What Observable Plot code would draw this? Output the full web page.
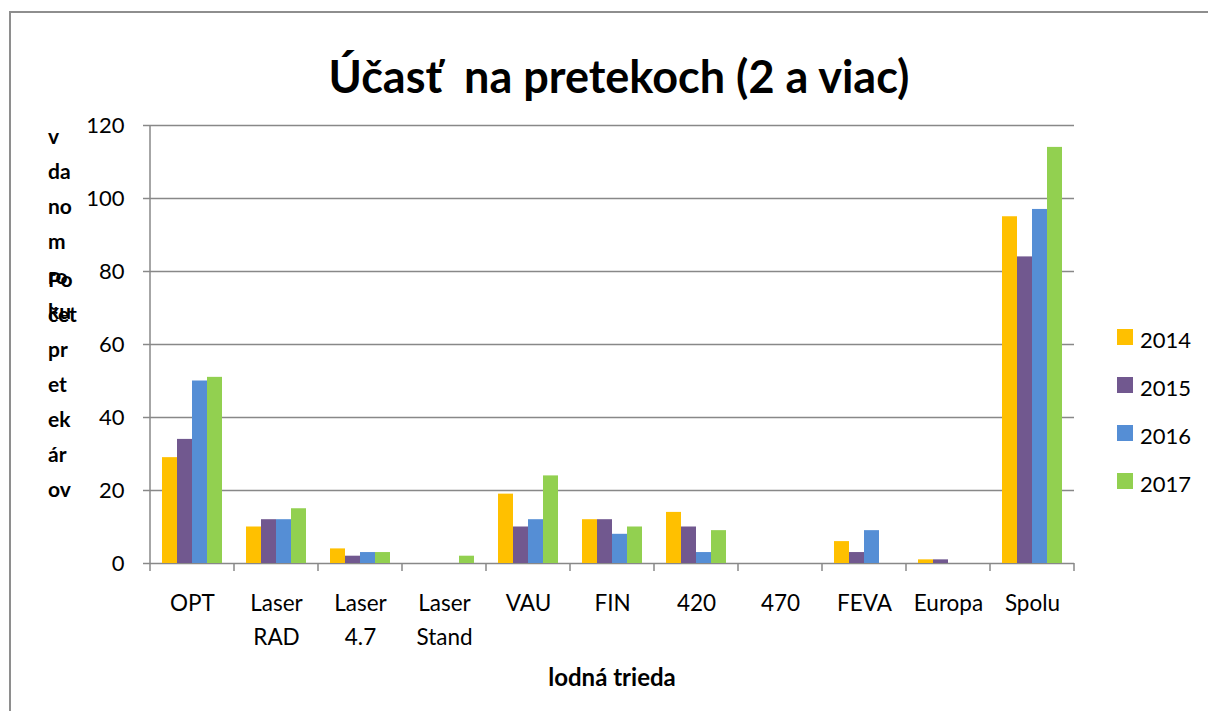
<!DOCTYPE html>
<html>
<head>
<meta charset="utf-8">
<script src="https://cdn.jsdelivr.net/npm/d3@7"></script>
<script src="https://cdn.jsdelivr.net/npm/@observablehq/plot@0.6"></script>
<style>
  html, body { margin: 0; padding: 0; background: #fff; }
  #wrap { position: relative; width: 1208px; height: 711px; overflow: hidden; font-family: Lato, "Open Sans", sans-serif; color: #000; }
  #border { position: absolute; left: 9px; top: 11px; width: 1300px; height: 800px; border: 2px solid #8e8e8e; box-sizing: border-box; }
  #chart { position: absolute; left: 0; top: 0; }
  #title { position: absolute; left: 0; width: 1238px; top: 48px; text-align: center; font-weight: bold; font-size: 45px; line-height: 56px; white-space: pre; }
  .ylab { position: absolute; font-weight: bold; font-size: 21px; line-height: 35px; }
  #xlab { position: absolute; left: 149px; width: 926px; top: 661px; text-align: center; font-weight: bold; font-size: 24px; line-height: 32px; }
  #legend { position: absolute; left: 1117px; top: 315px; }
  .li { display: flex; align-items: center; height: 48px; font-size: 22px; }
  .sw { width: 16px; height: 16px; margin-right: 7px; margin-top: -4px; }
</style>
</head>
<body>
<div id="wrap">
  <div id="border"></div>
  <div id="chart"></div>
  <div id="title"></div>
  <div class="ylab" id="ylab1" style="left:48px; top:118px;"></div>
  <div class="ylab" id="ylab2" style="left:48px; top:261px;"></div>
  <div id="xlab"></div>
  <div id="legend"></div>
</div>
<script>
// ---- data ----
const titleText = "Účasť  na pretekoch (2 a viac)";
const xLabel = "lodná trieda";
const yLabelA = ["v", "da", "no", "m", "ro", "ku"];
const yLabelB = ["Po", "čet", "pr", "et", "ek", "ár", "ov"];
const categories = ["OPT", "Laser\nRAD", "Laser\n4.7", "Laser\nStand", "VAU", "FIN", "420", "470", "FEVA", "Europa", "Spolu"];
const years = ["2014", "2015", "2016", "2017"];
const v2014 = [29, 10, 4, 0, 19, 12, 14, 0, 6, 1, 95];
const v2015 = [34, 12, 2, 0, 10, 12, 10, 0, 3, 1, 84];
const v2016 = [50, 12, 3, 0, 12, 8, 3, 0, 9, 0, 97];
const v2017 = [51, 15, 3, 2, 24, 10, 9, 0, 0, 0, 114];
const yTicks = [0, 20, 40, 60, 80, 100, 120];
const colors = ["#FFC000", "#71588F", "#558ED5", "#92D050"];

const series = [v2014, v2015, v2016, v2017];
const rows = [];
categories.forEach((c, i) => years.forEach((y, j) => rows.push({cat: c, year: y, value: series[j][i]})));

const gridColor = "#888888";

const chart = Plot.plot({
  width: 1208,
  height: 711,
  marginLeft: 149,
  marginRight: 133,
  marginTop: 125,
  marginBottom: 148,
  style: {fontFamily: "Lato, 'Open Sans', sans-serif", fontSize: "22px", color: "#000", background: "transparent", overflow: "visible"},
  fx: {domain: categories, padding: 0, label: null},
  x: {domain: years, paddingInner: 0, paddingOuter: 0.75, axis: null},
  y: {domain: [0, 120], label: null},
  color: {domain: years, range: colors},
  marks: [
    Plot.ruleY(yTicks, {stroke: gridColor, strokeWidth: 1.5}),
    Plot.barY(rows, {fx: "cat", x: "year", y: "value", fill: "year"}),
    Plot.axisY({ticks: yTicks, tickSize: 7, tickPadding: 19, stroke: gridColor, strokeWidth: 1.5, label: null, fontSize: 22}),
    Plot.axisFx({anchor: "bottom", tickSize: 0, tickPadding: 24, label: null, lineHeight: 1.5, fontSize: 22.5})
  ]
});
document.getElementById("chart").appendChild(chart);

// axis lines and category-boundary ticks, positioned with the plot's own scales
const fx = chart.scale("fx");
const ys = chart.scale("y");
const svg = d3.select(chart);
const y0 = ys.apply(0), yTop = ys.apply(120);
const g = svg.append("g").attr("stroke", gridColor).attr("stroke-width", 1.5);
const bounds = categories.map(c => fx.apply(c)).concat([fx.apply(categories[categories.length - 1]) + fx.bandwidth]);
bounds.forEach((x, i) => {
  g.append("line").attr("x1", x).attr("x2", x).attr("y1", i === 0 ? yTop : y0).attr("y2", y0 + 8);
});

// texts
document.getElementById("title").textContent = titleText;
document.getElementById("xlab").textContent = xLabel;
document.getElementById("ylab1").innerHTML = yLabelA.join("<br>");
document.getElementById("ylab2").innerHTML = yLabelB.join("<br>");
const legend = document.getElementById("legend");
years.forEach((y, i) => {
  const d = document.createElement("div");
  d.className = "li";
  const s = document.createElement("div");
  s.className = "sw";
  s.style.background = colors[i];
  const t = document.createElement("span");
  t.textContent = y;
  d.appendChild(s); d.appendChild(t);
  legend.appendChild(d);
});
</script>
</body>
</html>
